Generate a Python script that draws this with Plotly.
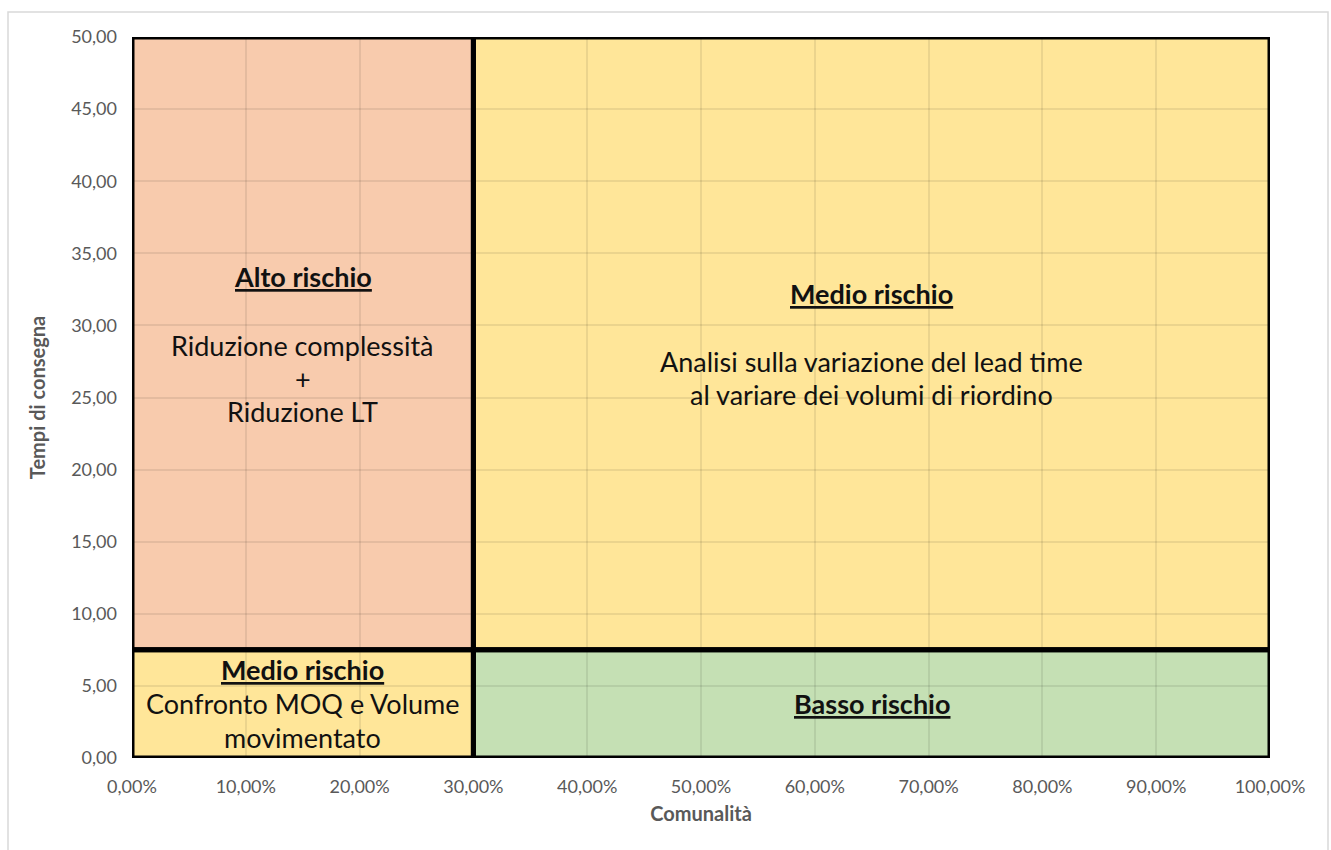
import plotly.graph_objects as go

# Quadrant thresholds
x_split = 0.30      # Comunalità
y_split = 7.5       # Tempi di consegna
x_max = 1.0
y_max = 50.0

# Quadrants: (x0, x1, y0, y1, fill colour)
quad_names = ["alto", "medio_top", "medio_bottom", "basso"]
quad_x0 = [0.0, x_split, 0.0, x_split]
quad_x1 = [x_split, x_max, x_split, x_max]
quad_y0 = [y_split, y_split, 0.0, 0.0]
quad_y1 = [y_max, y_max, y_split, y_split]
quad_colors = ["#F8CBAD", "#FFE699", "#FFE699", "#C5E0B4"]

# Quadrant labels: (x, y, text, bold/underlined title?)
label_x = [0.15, 0.15, 0.15, 0.15,
           0.65, 0.65, 0.65,
           0.15, 0.15, 0.15,
           0.65]
label_y = [33.4, 28.6, 26.35, 24.05,
           32.2, 27.5, 25.2,
           6.15, 3.75, 1.4,
           3.8]
label_text = ["Alto rischio", "Riduzione complessità", "+", "Riduzione LT",
              "Medio rischio", "Analisi sulla variazione del lead time",
              "al variare dei volumi di riordino",
              "Medio rischio", "Confronto MOQ e Volume", "movimentato",
              "Basso rischio"]
label_title = [True, False, False, False,
               True, False, False,
               True, False, False,
               True]

W, H = 1331, 850
ML, MR, MT, MB = 132, 61, 37, 92
plot_w = W - ML - MR
plot_h = H - MT - MB

fig = go.Figure()
# invisible trace so the axes are drawn
fig.add_trace(go.Scatter(x=[0, x_max], y=[0, y_max], mode="markers",
                         marker=dict(opacity=0), hoverinfo="skip",
                         showlegend=False))

shapes = []
for x0, x1, y0, y1, c in zip(quad_x0, quad_x1, quad_y0, quad_y1, quad_colors):
    shapes.append(dict(type="rect", xref="x", yref="y", x0=x0, x1=x1,
                       y0=y0, y1=y1, fillcolor=c, line=dict(width=0),
                       layer="below"))
for x0, x1, y0, y1 in zip(quad_x0, quad_x1, quad_y0, quad_y1):
    shapes.append(dict(type="rect", xref="x", yref="y", x0=x0, x1=x1,
                       y0=y0, y1=y1, fillcolor="rgba(0,0,0,0)",
                       line=dict(color="black", width=5), layer="above"))

# light outer frame around the whole chart
def px_to_paper_x(px):
    return (px - ML) / plot_w

def px_to_paper_y(py):
    return (H - MB - py) / plot_h

shapes.append(dict(type="rect", xref="paper", yref="paper",
                   x0=px_to_paper_x(8), x1=px_to_paper_x(1328),
                   y0=px_to_paper_y(852), y1=px_to_paper_y(12),
                   line=dict(color="#D9D9D9", width=1.5),
                   fillcolor="rgba(0,0,0,0)", layer="below"))

annotations = []
for x, y, t, is_title in zip(label_x, label_y, label_text, label_title):
    txt = f"<b><u>{t}</u></b>" if is_title else t
    annotations.append(dict(x=x, y=y, xref="x", yref="y", text=txt,
                            showarrow=False, xanchor="center", yanchor="middle",
                            font=dict(family="Lato, Open Sans, sans-serif",
                                      size=27, color="#111111")))

grid = "rgba(0,0,0,0.08)"
tick_font = dict(family="Lato, Open Sans, sans-serif", size=18, color="#595959")
title_font = dict(family="Lato, Open Sans, sans-serif", size=20, color="#595959")
fig.update_layout(
    width=W, height=H,
    margin=dict(l=ML, r=MR, t=MT, b=MB),
    paper_bgcolor="white", plot_bgcolor="white",
    separators=",.",
    shapes=shapes,
    annotations=annotations,
    font=dict(family="Lato, Open Sans, sans-serif", color="#595959"),
    xaxis=dict(range=[0, x_max], dtick=0.1, tick0=0, tickformat=".2%",
               showgrid=True, gridcolor=grid, gridwidth=1.5, zeroline=False,
               showline=False, ticks="", tickfont=tick_font,
               ticklabelstandoff=16,
               title=dict(text="<b>Comunalità</b>", font=title_font,
                          standoff=10)),
    yaxis=dict(range=[0, y_max], dtick=5, tick0=0, tickformat=".2f",
               showgrid=True, gridcolor=grid, gridwidth=1.5, zeroline=False,
               showline=False, ticks="", tickfont=tick_font,
               ticklabelstandoff=14,
               title=dict(text="<b>Tempi di consegna</b>", font=title_font,
                          standoff=20)),
)

fig.write_html("out.html")
